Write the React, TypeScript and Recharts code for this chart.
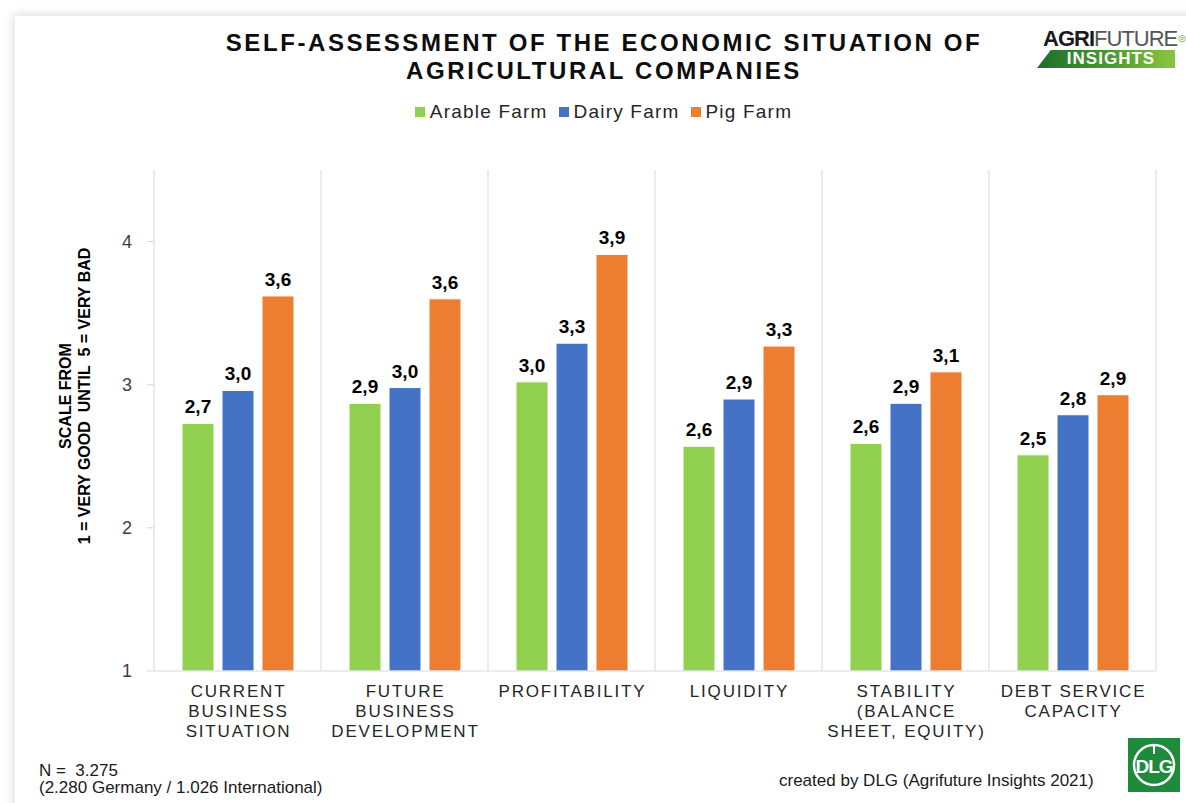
import React from 'react';
import { BarChart, Bar, XAxis, YAxis, CartesianGrid, Legend, LabelList, Label } from 'recharts';

// values (scale 1 = very good ... 5 = very bad)
const categories = [
  'CURRENT\nBUSINESS\nSITUATION',
  'FUTURE\nBUSINESS\nDEVELOPMENT',
  'PROFITABILITY',
  'LIQUIDITY',
  'STABILITY\n(BALANCE\nSHEET, EQUITY)',
  'DEBT SERVICE\nCAPACITY',
];
const arable = [2.73, 2.87, 3.02, 2.57, 2.59, 2.51];
const dairy = [2.96, 2.98, 3.29, 2.9, 2.87, 2.79];
const pig = [3.62, 3.6, 3.91, 3.27, 3.09, 2.93];
const yTicks = [1, 2, 3, 4];

const series = [
  { key: 'arable', name: 'Arable Farm', color: '#92D050' },
  { key: 'dairy', name: 'Dairy Farm', color: '#4472C4' },
  { key: 'pig', name: 'Pig Farm', color: '#ED7D31' },
];

const data = categories.map((name, i) => ({
  name,
  arable: arable[i],
  dairy: dairy[i],
  pig: pig[i],
}));

const FONT = '"Liberation Sans", Arial, Helvetica, sans-serif';
const GRID = '#d9d9d9';

const CategoryTick = (props: any) => {
  const { x, y, payload } = props;
  const lines = String(payload.value).split('\n');
  return (
    <g transform={`translate(${x},${y})`}>
      {lines.map((line, i) => (
        <text
          key={i}
          x={1}
          y={26 + i * 20}
          textAnchor="middle"
          fill="#262626"
          fontSize={17}
          letterSpacing={1.8}
          fontFamily={FONT}
        >
          {line}
        </text>
      ))}
    </g>
  );
};

const LegendContent = () => (
  <div style={{ display: 'flex', justifyContent: 'center', fontFamily: FONT }}>
    {series.map((s) => (
      <div key={s.key} style={{ display: 'flex', alignItems: 'center', marginRight: 11 }}>
        <span style={{ width: 10, height: 10, background: s.color, display: 'inline-block', marginRight: 5 }} />
        <span style={{ fontSize: 19, letterSpacing: 1.2, color: '#262626' }}>{s.name}</span>
      </div>
    ))}
  </div>
);

const AxisTitle = () => (
  <g fontFamily={FONT} fontWeight="bold" fontSize={16} fill="#000">
    <text transform="translate(71,396) rotate(-90)" textAnchor="middle">SCALE FROM</text>
    <text transform="translate(90,396) rotate(-90)" textAnchor="middle" style={{ whiteSpace: 'pre' }}>
      {'1 = VERY GOOD  UNTIL  5 = VERY BAD'}
    </text>
  </g>
);

// vertical separators at the category boundaries
const boundaryLines = ({ offset }: any) => {
  const step = offset.width / categories.length;
  return categories.map((_, i) => offset.left + i * step).concat(offset.left + offset.width);
};

const AgrifutureLogo = () => (
  <div style={{ position: 'absolute', left: 1037, top: 27, width: 149, fontFamily: FONT, overflow: 'hidden' }}>
    <div style={{ fontSize: 22, lineHeight: '23px', letterSpacing: -1, paddingLeft: 6, whiteSpace: 'nowrap' }}>
      <span style={{ fontWeight: 'bold', color: '#1a1a1a' }}>AGRI</span>
      <span style={{ color: '#555', fontWeight: 300 }}>FUTURE</span>
      <span style={{ fontSize: 9, color: '#5aa021', verticalAlign: 'top', marginLeft: 1 }}>◎</span>
    </div>
    <div
      style={{
        width: 138,
        height: 18,
        background: 'linear-gradient(90deg, #1d6e2a 0%, #4a9d2b 55%, #8cc63f 100%)',
        clipPath: 'polygon(10% 0, 100% 0, 100% 100%, 0 100%)',
        color: '#fff',
        fontWeight: 'bold',
        fontSize: 17,
        lineHeight: '18px',
        textAlign: 'center',
        letterSpacing: 1,
        paddingLeft: 10,
        boxSizing: 'border-box',
      }}
    >
      INSIGHTS
    </div>
  </div>
);

const DlgLogo = () => (
  <svg style={{ position: 'absolute', left: 1128, top: 738 }} width={52} height={54}>
    <rect x={0} y={0} width={52} height={54} fill="#1e8a3c" />
    <circle cx={26} cy={27} r={20} fill="none" stroke="#fff" strokeWidth={2.5} />
    <line x1={26} y1={7} x2={26} y2={16} stroke="#fff" strokeWidth={2} />
    <text x={26} y={35} textAnchor="middle" fill="#fff" fontWeight="bold" fontSize={19} fontFamily={FONT} letterSpacing={-1}>
      DLG
    </text>
  </svg>
);

export default function App() {
  return (
    <div style={{ position: 'fixed', left: 0, top: 0, width: 1186, height: 803, background: '#fff', overflow: 'hidden' }}>
      <div
        style={{
          position: 'absolute',
          left: 15,
          top: 16,
          width: 1220,
          height: 840,
          background: '#fff',
          boxShadow: '0 0 9px 2px rgba(0,0,0,0.13)',
        }}
      />
      <div
        style={{
          position: 'absolute',
          left: 0,
          top: 29,
          width: 1208,
          textAlign: 'center',
          fontFamily: FONT,
          fontWeight: 'bold',
          fontSize: 24,
          lineHeight: '28px',
          letterSpacing: 2.6,
          color: '#0d0d0d',
        }}
      >
        SELF-ASSESSMENT OF THE ECONOMIC SITUATION OF
        <br />
        AGRICULTURAL COMPANIES
      </div>
      <AgrifutureLogo />
      <div style={{ position: 'absolute', left: 0, top: 0 }}>
        <BarChart
          width={1186}
          height={803}
          data={data}
          margin={{ top: 170, right: 30, left: 94, bottom: 72 }}
          barSize={32}
          barGap={8}
        >
          <CartesianGrid horizontal={false} stroke={GRID} verticalCoordinatesGenerator={boundaryLines} />
          <XAxis
            dataKey="name"
            height={60}
            interval={0}
            tickSize={0}
            tickMargin={0}
            tickLine={false}
            axisLine={{ stroke: GRID }}
            tick={<CategoryTick />}
          />
          <YAxis
            width={60}
            domain={[1, 4.5]}
            ticks={yTicks}
            allowDataOverflow
            axisLine={false}
            tickLine={{ stroke: GRID }}
            tickSize={7}
            tickMargin={15}
            tick={{ fontSize: 18, fill: '#404040', fontFamily: FONT }}
          >
            <Label content={<AxisTitle />} />
          </YAxis>
          <Legend
            verticalAlign="middle"
            align="center"
            content={<LegendContent />}
            wrapperStyle={{ top: 101, left: 0, width: 1218, height: 24 }}
          />
          {series.map((s) => (
            <Bar key={s.key} dataKey={s.key} name={s.name} fill={s.color} stroke="#fff" strokeWidth={1} isAnimationActive={false}>
              <LabelList
                dataKey={s.key}
                position="top"
                offset={10}
                formatter={(v: any) => Number(v).toFixed(1).replace('.', ',')}
                style={{ fontSize: 19, fontWeight: 'bold', fill: '#000', fontFamily: FONT }}
              />
            </Bar>
          ))}
        </BarChart>
      </div>
      <div style={{ position: 'absolute', left: 39, top: 762, fontFamily: FONT, fontSize: 17, lineHeight: '17px', color: '#1a1a1a', whiteSpace: 'pre' }}>
        {'N =  3.275'}
        <br />
        {'(2.280 Germany / 1.026 International)'}
      </div>
      <div style={{ position: 'absolute', left: 779, top: 771, fontFamily: FONT, fontSize: 17, lineHeight: '20px', color: '#1a1a1a' }}>
        created by DLG (Agrifuture Insights 2021)
      </div>
      <DlgLogo />
    </div>
  );
}
